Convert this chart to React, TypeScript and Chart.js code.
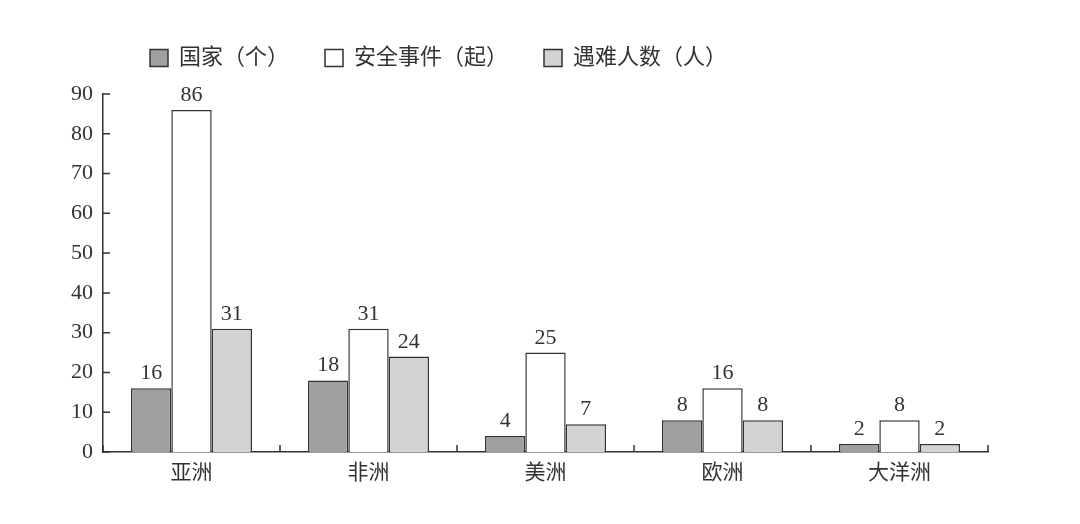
import { useEffect, useRef } from 'react';
import { Chart, registerables } from 'chart.js';

Chart.register(...registerables);

const continents = ['亚洲', '非洲', '美洲', '欧洲', '大洋洲'];
const countries = [16, 18, 4, 8, 2];
const incidents = [86, 31, 25, 16, 8];
const victims = [31, 24, 7, 8, 2];
const seriesNames = ['国家（个）', '安全事件（起）', '遇难人数（人）'];

const FONT = "'Liberation Serif', 'Noto Sans CJK SC', serif";
const INK = '#333333';

// valeurs au-dessus des barres
const valueLabels = {
  id: 'valueLabels',
  afterDatasetsDraw(chart: Chart) {
    const ctx = chart.ctx;
    ctx.save();
    ctx.font = `22px ${FONT}`;
    ctx.fillStyle = INK;
    ctx.textAlign = 'center';
    ctx.textBaseline = 'alphabetic';
    chart.data.datasets.forEach((ds, i) => {
      chart.getDatasetMeta(i).data.forEach((el: any, j) => {
        ctx.fillText(String(ds.data[j]), el.x, el.y - 9);
      });
    });
    ctx.restore();
  },
};

// légende décalée à gauche, avec plus d'espace en dessous
const legendPlace = {
  id: 'legendPlace',
  beforeLayout(chart: any) {
    const lg = chart.legend;
    if (lg && !lg._patched) {
      const fit = lg.fit;
      lg.fit = function () {
        fit.call(this);
        this.height += 15;
      };
      lg._patched = true;
    }
  },
  beforeDraw(chart: Chart) {
    if (chart.legend) chart.legend.left = 106;
  },
};

// petites graduations tournées vers l'intérieur
const innerTicks = {
  id: 'innerTicks',
  afterDraw(chart: Chart) {
    const ctx = chart.ctx;
    const x = chart.scales.x;
    const y = chart.scales.y;
    ctx.save();
    ctx.strokeStyle = INK;
    ctx.lineWidth = 1.5;
    ctx.beginPath();
    y.ticks.forEach((t) => {
      const py = y.getPixelForValue(t.value);
      ctx.moveTo(x.left, py);
      ctx.lineTo(x.left + 7, py);
    });
    const step = x.getPixelForValue(1) - x.getPixelForValue(0);
    for (let i = 0; i <= continents.length; i++) {
      const px = x.getPixelForValue(0) - step / 2 + i * step;
      ctx.moveTo(px, y.bottom);
      ctx.lineTo(px, y.bottom - 7);
    }
    ctx.stroke();
    ctx.restore();
  },
};

export default function App() {
  const canvasRef = useRef<HTMLCanvasElement>(null);

  useEffect(() => {
    if (!canvasRef.current) return;
    const chart = new Chart(canvasRef.current, {
      type: 'bar',
      data: {
        labels: continents,
        datasets: [
          { label: seriesNames[0], data: countries, backgroundColor: '#a0a0a3' },
          { label: seriesNames[1], data: incidents, backgroundColor: '#ffffff' },
          { label: seriesNames[2], data: victims, backgroundColor: '#d3d3d5' },
        ].map((d) => ({ ...d, borderColor: INK, borderWidth: 1.5, categoryPercentage: 0.684, barPercentage: 1 })),
      },
      options: {
        responsive: true,
        maintainAspectRatio: false,
        animation: false,
        layout: { padding: { top: 3, right: 84, left: 0, bottom: 0 } },
        plugins: {
          legend: {
            align: 'start',
            labels: {
              font: { family: FONT, size: 22 },
              color: INK,
              boxWidth: 18,
              boxHeight: 17,
              padding: 36,
            },
          },
          tooltip: { enabled: false },
        },
        scales: {
          x: {
            grid: { display: false, drawTicks: false },
            border: { display: true, color: INK, width: 1.5 },
            ticks: { font: { family: FONT, size: 21 }, color: INK, padding: 9 },
            afterFit: (s: any) => { s.height = 64; },
          },
          y: {
            min: 0,
            max: 90,
            grid: { display: false, drawTicks: false },
            border: { display: true, color: INK, width: 1.5 },
            ticks: { stepSize: 10, font: { family: FONT, size: 22 }, color: INK, padding: 10 },
            afterFit: (s: any) => { s.width = 95; },
          },
        },
      },
      plugins: [valueLabels, legendPlace, innerTicks],
    });
    return () => chart.destroy();
  }, []);

  return (
    <div style={{ width: 1064, height: 508 }}>
      <canvas ref={canvasRef} />
    </div>
  );
}
